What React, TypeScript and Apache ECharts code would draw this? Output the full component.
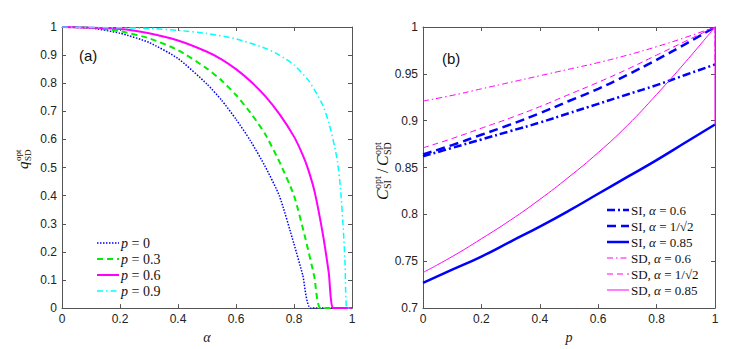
import React, { useEffect, useRef } from "react";
import * as echarts from "echarts";

// ---- Panel (a): q_SD^opt vs alpha ----
const alphaP0 = [0, 0.1, 0.2, 0.3, 0.4, 0.5, 0.55, 0.6, 0.65, 0.7, 0.75, 0.8, 0.83, 0.858, 1];
const qP0 = [1, 0.996, 0.978, 0.945, 0.888, 0.797, 0.74, 0.672, 0.595, 0.505, 0.398, 0.228, 0.118, 0, 0];
const alphaP3 = [0, 0.1, 0.2, 0.3, 0.4, 0.5, 0.55, 0.6, 0.65, 0.7, 0.75, 0.8, 0.84, 0.87, 0.892, 1];
const qP3 = [1, 0.998, 0.985, 0.96, 0.918, 0.852, 0.81, 0.758, 0.695, 0.62, 0.52, 0.4, 0.245, 0.112, 0, 0];
const alphaP6 = [0, 0.2, 0.3, 0.4, 0.5, 0.55, 0.6, 0.65, 0.7, 0.75, 0.8, 0.83, 0.85, 0.872, 0.9, 0.92, 0.936, 1];
const qP6 = [1, 0.993, 0.978, 0.952, 0.912, 0.885, 0.85, 0.807, 0.755, 0.69, 0.61, 0.545, 0.49, 0.41, 0.26, 0.125, 0, 0];
const alphaP9 = [0, 0.3, 0.4, 0.5, 0.6, 0.7, 0.75, 0.8, 0.85, 0.88, 0.9, 0.92, 0.94, 0.95, 0.96, 0.97, 0.976, 0.982, 1];
const qP9 = [1, 0.995, 0.988, 0.977, 0.958, 0.925, 0.9, 0.865, 0.81, 0.76, 0.72, 0.66, 0.575, 0.52, 0.43, 0.28, 0.16, 0, 0];

// ---- Panel (b): C_SI^opt / C_SD^opt vs p ----
const pGrid = [0, 0.1, 0.2, 0.3, 0.4, 0.5, 0.6, 0.7, 0.8, 0.9, 1];
const siA06 = [0.862, 0.871, 0.88, 0.889, 0.898, 0.908, 0.918, 0.928, 0.938, 0.949, 0.96];
const siA07 = [0.864, 0.874, 0.885, 0.896, 0.908, 0.921, 0.934, 0.949, 0.965, 0.982, 1.0];
const siA085 = [0.727, 0.741, 0.755, 0.771, 0.787, 0.804, 0.822, 0.84, 0.858, 0.877, 0.896];
const sdA06 = [0.921, 0.927, 0.934, 0.941, 0.948, 0.955, 0.962, 0.97, 0.979, 0.989, 1.0];
const sdA07 = [0.871, 0.881, 0.892, 0.903, 0.915, 0.928, 0.941, 0.955, 0.97, 0.985, 1.0];
const sdA085 = [0.738, 0.755, 0.774, 0.794, 0.816, 0.84, 0.866, 0.895, 0.928, 0.963, 1.0];
// vertical drops drawn at p = 1
const dropP = [1, 1];
const sdA06Drop = [1.0, 0.96];
const sdA085Drop = [1.0, 0.896];

const xTicksA = ["0", "0.2", "0.4", "0.6", "0.8", "1"];
const yTicksA = ["0", "0.1", "0.2", "0.3", "0.4", "0.5", "0.6", "0.7", "0.8", "0.9", "1"];
const yTicksB = ["0.7", "0.75", "0.8", "0.85", "0.9", "0.95", "1"];

const legendA = ["p0", "p3", "p6", "p9"];
const legendALabels = ["{i|p}{r| = 0}", "{i|p}{r| = 0.3}", "{i|p}{r| = 0.6}", "{i|p}{r| = 0.9}"];
const legendB = ["si06", "si07", "si085", "sd06", "sd07", "sd085"];
const legendBLabels = [
  "{r|SI, }{i|α}{r| = 0.6}",
  "{r|SI, }{i|α}{r| = 1/√2}",
  "{r|SI, }{i|α}{r| = 0.85}",
  "{r|SD, }{i|α}{r| = 0.6}",
  "{r|SD, }{i|α}{r| = 1/√2}",
  "{r|SD, }{i|α}{r| = 0.85}",
];

const zip = (xs: number[], ys: number[]) => xs.map((x, i) => [x, ys[i]]);

const SANS = "Liberation Sans";
const SERIF = "Liberation Serif";
const AXIS = "#555";
const LABEL = "#222";
const BLUE = "#0000ff";
const GREEN = "#00ee00";
const MAG = "#ff00ff";
const CYAN = "#00ffff";

type Sty = { color: string; width: number; dash: number[] | null };
const styles: Record<string, Sty> = {
  p0: { color: BLUE, width: 1.5, dash: [1.5, 1.5] },
  p3: { color: GREEN, width: 2, dash: [6, 4] },
  p6: { color: MAG, width: 2, dash: null },
  p9: { color: CYAN, width: 1.5, dash: [6, 3, 1.5, 3] },
  si06: { color: BLUE, width: 2.5, dash: [8, 3, 2, 3] },
  si07: { color: BLUE, width: 2.5, dash: [9, 5] },
  si085: { color: BLUE, width: 2.5, dash: null },
  sd06: { color: MAG, width: 1, dash: [6, 3, 1.5, 3] },
  sd07: { color: MAG, width: 1, dash: [6, 4] },
  sd085: { color: MAG, width: 1, dash: null },
};

function mkX(gridIndex: number, top: boolean, name: string, fmt: string[]) {
  return {
    type: "value",
    gridIndex,
    position: top ? "top" : "bottom",
    min: 0,
    max: 1,
    interval: 0.2,
    name: top ? "" : name,
    nameLocation: "middle",
    nameGap: 18,
    nameTextStyle: { fontFamily: SERIF, fontStyle: "italic", fontSize: 14, color: LABEL },
    axisLine: { show: true, onZero: false, lineStyle: { color: AXIS, width: 1 } },
    axisTick: { show: true, inside: true, length: 4, lineStyle: { color: AXIS } },
    axisLabel: {
      show: !top,
      fontFamily: SANS,
      fontSize: 12,
      color: LABEL,
      margin: 5,
      formatter: (v: number) => fmt[Math.round(v / 0.2)] ?? "",
    },
    splitLine: { show: false },
  };
}

function mkY(gridIndex: number, right: boolean, min: number, max: number, interval: number, fmt: string[]) {
  return {
    type: "value",
    gridIndex,
    position: right ? "right" : "left",
    min,
    max,
    interval,
    axisLine: { show: true, onZero: false, lineStyle: { color: AXIS, width: 1 } },
    axisTick: { show: true, inside: true, length: 4, lineStyle: { color: AXIS } },
    axisLabel: {
      show: !right,
      fontFamily: SANS,
      fontSize: 12,
      color: LABEL,
      margin: 5,
      formatter: (v: number) => fmt[Math.round((v - min) / interval)] ?? "",
    },
    splitLine: { show: false },
  };
}

function line(name: string, data: number[][], xi: number, yi: number, smooth: boolean | number = false) {
  const s = styles[name];
  return {
    type: "line",
    name,
    data,
    xAxisIndex: xi,
    yAxisIndex: yi,
    showSymbol: false,
    symbol: "none",
    smooth,
    lineStyle: { color: s.color, width: s.width, type: s.dash ?? "solid" },
    itemStyle: { color: s.color },
    z: 3,
  };
}

function legendGraphics(names: string[], labels: string[], x0: number, y0: number, step: number, fs: number) {
  const out: any[] = [];
  names.forEach((n, i) => {
    const s = styles[n];
    const y = y0 + i * step;
    out.push({
      type: "line",
      shape: { x1: x0, y1: y, x2: x0 + 22, y2: y },
      style: { stroke: s.color, lineWidth: s.width, lineDash: s.dash ?? undefined },
    });
    out.push({
      type: "text",
      x: x0 + 24,
      y,
      style: {
        text: labels[i],
        fontFamily: SERIF,
        fontSize: fs,
        fill: "#111",
        verticalAlign: "middle",
        rich: {
          i: { fontFamily: SERIF, fontStyle: "italic", fontWeight: "normal", fontSize: fs, fill: "#111" },
          r: { fontFamily: SERIF, fontStyle: "normal", fontWeight: "normal", fontSize: fs, fill: "#111" },
        },
      },
    });
  });
  return out;
}

export default function App() {
  const ref = useRef<HTMLDivElement>(null);
  useEffect(() => {
    if (!ref.current) return;
    const chart = echarts.init(ref.current, undefined, { renderer: "svg" });
    chart.setOption({
      animation: false,
      backgroundColor: "#fff",
      grid: [
        { left: 62, top: 27, width: 290, height: 284, containLabel: false },
        { left: 423, top: 27, width: 292, height: 284, containLabel: false },
      ],
      xAxis: [
        mkX(0, false, "α", xTicksA),
        mkX(0, true, "", xTicksA),
        mkX(1, false, "p", xTicksA),
        mkX(1, true, "", xTicksA),
      ],
      yAxis: [
        mkY(0, false, 0, 1, 0.1, yTicksA),
        mkY(0, true, 0, 1, 0.1, yTicksA),
        mkY(1, false, 0.7, 1, 0.05, yTicksB),
        mkY(1, true, 0.7, 1, 0.05, yTicksB),
      ],
      series: [
        line("p0", zip(alphaP0, qP0), 0, 0, 0.2),
        line("p3", zip(alphaP3, qP3), 0, 0, 0.2),
        line("p6", zip(alphaP6, qP6), 0, 0, 0.2),
        line("p9", zip(alphaP9, qP9), 0, 0, 0.2),
        line("si06", zip(pGrid, siA06), 2, 2, true),
        line("si07", zip(pGrid, siA07), 2, 2, true),
        line("si085", zip(pGrid, siA085), 2, 2, true),
        line("sd06", zip(pGrid, sdA06), 2, 2, true),
        line("sd07", zip(pGrid, sdA07), 2, 2, true),
        line("sd085", zip(pGrid, sdA085), 2, 2, true),
        { ...line("sd06", zip(dropP, sdA06Drop), 2, 2), name: "sd06drop" },
        { ...line("sd085", zip(dropP, sdA085Drop), 2, 2), name: "sd085drop" },
      ],
      graphic: [
        ...legendGraphics(legendA, legendALabels, 97, 243, 16, 14),
        ...legendGraphics(legendB, legendBLabels, 607, 210, 16, 13),
        { type: "text", left: 79, top: 48, style: { text: "(a)", fontFamily: SANS, fontSize: 15, fill: "#111" } },
        { type: "text", left: 442, top: 51, style: { text: "(b)", fontFamily: SANS, fontSize: 15, fill: "#111" } },
        {
          type: "group",
          x: 23,
          y: 160,
          rotation: Math.PI / 2,
          children: [
            { type: "text", x: -9, y: 0, style: { text: "q", fontFamily: SERIF, fontStyle: "italic", fontSize: 15, fill: "#111", verticalAlign: "middle" } },
            { type: "text", x: -1, y: -5, style: { text: "opt", fontFamily: SERIF, fontSize: 9, fill: "#111", verticalAlign: "middle" } },
            { type: "text", x: -1, y: 5, style: { text: "SD", fontFamily: SERIF, fontSize: 9, fill: "#111", verticalAlign: "middle" } },
          ],
        },
        {
          type: "group",
          x: 382,
          y: 162,
          rotation: Math.PI / 2,
          children: [
            { type: "text", x: -38, y: 0, style: { text: "C", fontFamily: SERIF, fontStyle: "italic", fontSize: 16, fill: "#111", verticalAlign: "middle" } },
            { type: "text", x: -27, y: -5, style: { text: "opt", fontFamily: SERIF, fontSize: 10, fill: "#111", verticalAlign: "middle" } },
            { type: "text", x: -27, y: 5, style: { text: "SI", fontFamily: SERIF, fontSize: 10, fill: "#111", verticalAlign: "middle" } },
            { type: "text", x: -11, y: 0, style: { text: "/", fontFamily: SERIF, fontSize: 16, fill: "#111", verticalAlign: "middle" } },
            { type: "text", x: -4, y: 0, style: { text: "C", fontFamily: SERIF, fontStyle: "italic", fontSize: 16, fill: "#111", verticalAlign: "middle" } },
            { type: "text", x: 7, y: -5, style: { text: "opt", fontFamily: SERIF, fontSize: 10, fill: "#111", verticalAlign: "middle" } },
            { type: "text", x: 7, y: 5, style: { text: "SD", fontFamily: SERIF, fontSize: 10, fill: "#111", verticalAlign: "middle" } },
          ],
        },
      ],
    });
    return () => chart.dispose();
  }, []);
  return <div ref={ref} style={{ position: "fixed", left: 0, top: 0, width: 747, height: 349 }} />;
}
